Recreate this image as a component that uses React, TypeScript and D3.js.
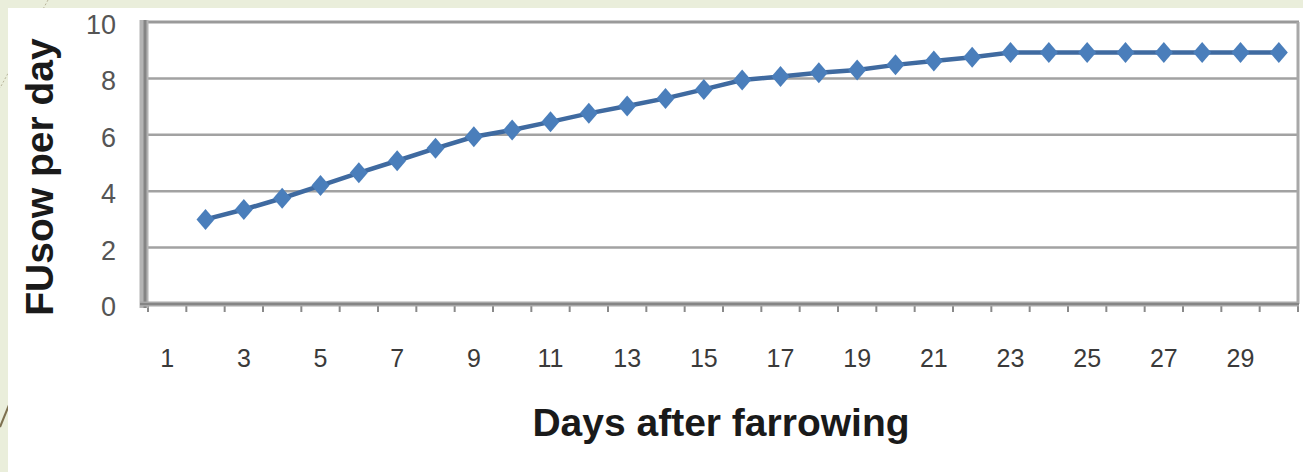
import React from "react";
import * as d3 from "d3";

const days: number[] = d3.range(1, 31);
const seriesDays: number[] = d3.range(2, 31);
const fuValues: number[] = [
  3.0, 3.35, 3.75, 4.2, 4.65, 5.08, 5.52, 5.93, 6.17, 6.46, 6.76, 7.02, 7.29, 7.61,
  7.94, 8.07, 8.2, 8.3, 8.48, 8.62, 8.75, 8.92, 8.92, 8.92, 8.92, 8.92, 8.92, 8.92, 8.92,
];
const yTicks: number[] = [0, 2, 4, 6, 8, 10];
const xLabelDays: number[] = d3.range(1, 31, 2);
const xTitle = "Days after farrowing";
const yTitle = "FUsow per day";

const W = 1303;
const H = 472;
const left = 148;
const right = 1298;
const top = 22;
const bottom = 304;

export default function App() {
  const x = d3.scaleBand<number>().domain(days).range([left, right]).padding(0);
  const y = d3.scaleLinear().domain([0, 10]).range([bottom, top]);
  const cx = (d: number) => (x(d) as number) + x.bandwidth() / 2;
  const pts = seriesDays.map((d, i) => [cx(d), y(fuValues[i])] as [number, number]);
  const line = d3.line<[number, number]>()(pts) || "";
  const boundaries = days.map((d) => x(d) as number).concat([right]);
  const diamond = (px: number, py: number) =>
    `M${px},${py - 10.5}L${px + 9},${py}L${px},${py + 10.5}L${px - 9},${py}Z`;

  return (
    <svg
      width={W}
      height={H}
      style={{ position: "absolute", left: 0, top: 0, display: "block" }}
      fontFamily="'Liberation Sans', Arial, sans-serif"
    >
      <rect x={0} y={0} width={W} height={H} fill="#eaeedb" />
      <path d="M48,0 L0,88" stroke="#b8b49a" strokeWidth={1} strokeDasharray="2,2" fill="none" />
      <path d="M0,427 L9,405" stroke="#7d7050" strokeWidth={2} fill="none" />
      <rect x={8} y={8} width={W - 8} height={H - 8} fill="#ffffff" />

      {/* gridlines */}
      {yTicks.filter((t) => t > 0 && t < 10).map((t) => (
        <line key={"g" + t} x1={left} x2={right} y1={y(t)} y2={y(t)} stroke="#a2a2a2" strokeWidth={2.5} />
      ))}
      {/* top and right border */}
      <line x1={left - 4} x2={right + 1} y1={top} y2={top} stroke="#9a9a9a" strokeWidth={3} />
      <line x1={right} x2={right} y1={top} y2={bottom} stroke="#a8a8a8" strokeWidth={3} />

      {/* x ticks */}
      {boundaries.map((b, i) => (
        <line key={"t" + i} x1={b} x2={b} y1={bottom} y2={bottom + 8} stroke="#8a8a8a" strokeWidth={2} />
      ))}
      {/* axes */}
      <line x1={144} x2={144} y1={top - 2} y2={bottom + 4} stroke="#b4b4b4" strokeWidth={9} />
      <line x1={145} x2={145} y1={top - 2} y2={bottom + 4} stroke="#858585" strokeWidth={3} />
      <line x1={140} x2={right + 1} y1={bottom} y2={bottom} stroke="#a8a8a8" strokeWidth={5} />
      <line x1={140} x2={right + 1} y1={bottom} y2={bottom} stroke="#858585" strokeWidth={2} />

      {/* y tick labels */}
      {yTicks.map((t) => (
        <text key={"yl" + t} x={116} y={y(t) + 3} textAnchor="end" dominantBaseline="central" fontSize={27} fill="#555555">
          {t}
        </text>
      ))}
      {/* x tick labels */}
      {xLabelDays.map((d) => (
        <text key={"xl" + d} x={cx(d)} y={367} textAnchor="middle" fontSize={25} fill="#3a3a3a">
          {d}
        </text>
      ))}

      {/* series */}
      <path d={line} fill="none" stroke="#3f6aa0" strokeWidth={4.5} />
      {pts.map(([px, py], i) => (
        <path key={"m" + i} d={diamond(px, py)} fill="#4a7ebb" />
      ))}

      {/* titles */}
      <text x={721} y={436} textAnchor="middle" fontSize={39} fontWeight="bold" fill="#1a1a1a">
        {xTitle}
      </text>
      <text
        transform={`translate(53,177) rotate(-90)`}
        textAnchor="middle"
        fontSize={39}
        fontWeight="bold"
        fill="#1a1a1a"
      >
        {yTitle}
      </text>
    </svg>
  );
}
